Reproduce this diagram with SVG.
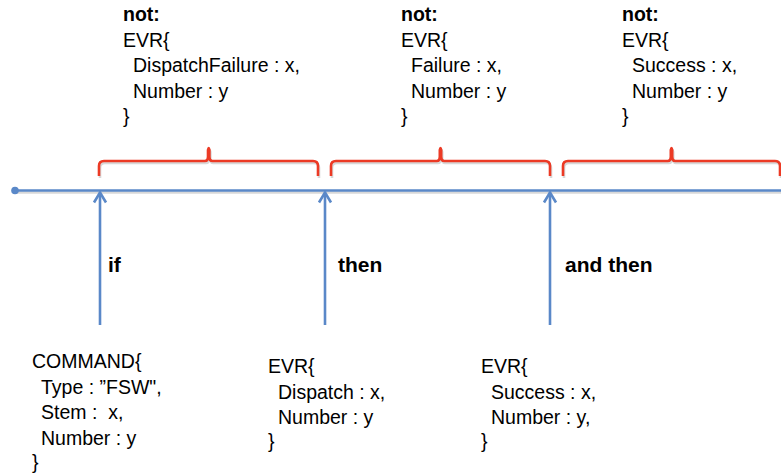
<svg xmlns="http://www.w3.org/2000/svg" width="781" height="475" viewBox="0 0 781 475">
  <style>
    .code { font-family: "Liberation Sans", Arial, sans-serif; font-size: 19.5px; fill: #000; white-space: pre; }
    .bold { font-weight: bold; }
    .lbl { font-family: "Liberation Sans", Arial, sans-serif; font-size: 21px; font-weight: bold; fill: #000; }
    .brace { fill: none; stroke: #ec3a25; stroke-width: 2.6; stroke-linejoin: round; stroke-linecap: butt; }
    .shadow { fill: none; stroke: #c8c8c8; stroke-width: 2.6; opacity: 0.7; }
    .tl { stroke: #5a88c8; stroke-width: 2.6; fill: none; }
    .arrow { stroke: #5a88c8; stroke-width: 2.6; fill: none; }
  </style>
  <defs>
    <marker id="chev" markerUnits="userSpaceOnUse" orient="auto" refX="0" refY="0" markerWidth="20" markerHeight="20" overflow="visible">
      <path d="M -10 -6 L 0 0 L -10 6" fill="none" stroke="#5a88c8" stroke-width="2.6" stroke-linejoin="miter"/>
    </marker>
    <path id="b1" d="M 99 176 L 99 166 Q 99 161 104 161 L 205 161 Q 208 161 208 157 L 208 150 Q 208.7 146 209.4 150 L 209.4 157 Q 209.4 161 212.4 161 L 313 161 Q 318 161 318 166 L 318 176"/>
    <path id="b2" d="M 331 176 L 331 166 Q 331 161 336 161 L 436.8 161 Q 439.8 161 439.8 157 L 439.8 150 Q 440.5 146 441.2 150 L 441.2 157 Q 441.2 161 444.2 161 L 545 161 Q 550 161 550 166 L 550 176"/>
    <path id="b3" d="M 563 176 L 563 166 Q 563 161 568 161 L 667.8 161 Q 670.8 161 670.8 157 L 670.8 150 Q 671.5 146 672.2 150 L 672.2 157 Q 672.2 161 675.2 161 L 775 161 Q 780 161 780 166 L 780 176"/>
  </defs>

  <g id="timeline">
    <line x1="15" y1="192.5" x2="781" y2="192.5" class="shadow"/>
    <line class="tl" x1="15" y1="190.5" x2="781" y2="190.5"/>
    <circle cx="15" cy="190.5" r="3.8" fill="#5a88c8"/>
  </g>

  <g id="braces">
    <use href="#b1" class="shadow" transform="translate(1,2)"/>
    <use href="#b2" class="shadow" transform="translate(1,2)"/>
    <use href="#b3" class="shadow" transform="translate(1,2)"/>
    <use href="#b1" class="brace"/>
    <use href="#b2" class="brace"/>
    <use href="#b3" class="brace"/>
  </g>

  <g id="connectors">
    <line class="arrow" x1="100" y1="325" x2="100" y2="192.5" marker-end="url(#chev)"/>
    <line class="arrow" x1="325" y1="325" x2="325" y2="192.5" marker-end="url(#chev)"/>
    <line class="arrow" x1="550" y1="325" x2="550" y2="192.5" marker-end="url(#chev)"/>
  </g>

  <g id="label-if"><text class="lbl" x="108" y="272">if</text></g>
  <g id="label-then"><text class="lbl" x="338" y="272">then</text></g>
  <g id="label-andthen"><text class="lbl" x="565" y="272">and then</text></g>

  <g id="not-dispatchfailure">
    <text class="code bold" x="123" y="21">not:</text>
    <text class="code" x="123" y="47">EVR{</text>
    <text class="code" x="133" y="72">DispatchFailure : x,</text>
    <text class="code" x="133" y="98">Number : y</text>
    <text class="code" x="123" y="123">}</text>
  </g>

  <g id="not-failure">
    <text class="code bold" x="401" y="21">not:</text>
    <text class="code" x="401" y="47">EVR{</text>
    <text class="code" x="411" y="72">Failure : x,</text>
    <text class="code" x="411" y="98">Number : y</text>
    <text class="code" x="401" y="123">}</text>
  </g>

  <g id="not-success">
    <text class="code bold" x="622" y="21">not:</text>
    <text class="code" x="622" y="47">EVR{</text>
    <text class="code" x="632" y="72">Success : x,</text>
    <text class="code" x="632" y="98">Number : y</text>
    <text class="code" x="622" y="123">}</text>
  </g>

  <g id="command">
    <text class="code" x="32" y="368">COMMAND{</text>
    <text class="code" x="41" y="393.5">Type : ”FSW",</text>
    <text class="code" x="41" y="419" xml:space="preserve">Stem :  x,</text>
    <text class="code" x="41" y="444.5">Number : y</text>
    <text class="code" x="32" y="469">}</text>
  </g>

  <g id="evr-dispatch">
    <text class="code" x="268" y="373">EVR{</text>
    <text class="code" x="278" y="398.5">Dispatch : x,</text>
    <text class="code" x="278" y="424">Number : y</text>
    <text class="code" x="268" y="448">}</text>
  </g>

  <g id="evr-success">
    <text class="code" x="481" y="373">EVR{</text>
    <text class="code" x="491" y="398.5">Success : x,</text>
    <text class="code" x="491" y="424">Number : y,</text>
    <text class="code" x="481" y="448">}</text>
  </g>
</svg>
